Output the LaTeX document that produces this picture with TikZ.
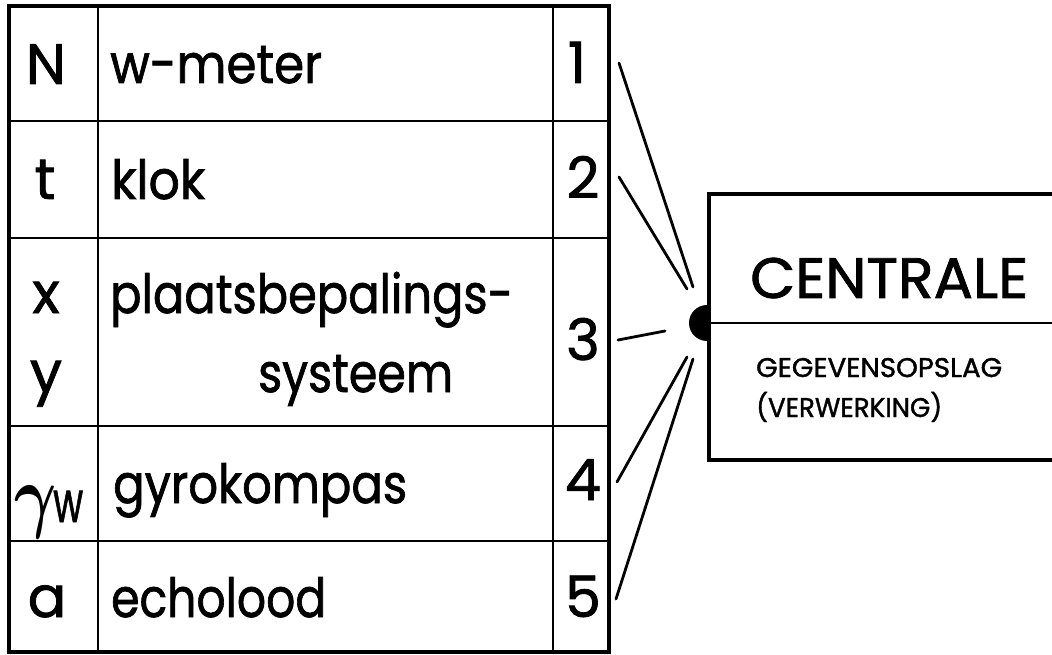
\documentclass[tikz,border=0pt]{standalone}
\usepackage{amsmath}
\usepackage{fontspec}
\usepackage{graphicx}
\newfontfamily\lett[FakeBold=1.4]{Poppins}
% set a text to a given width, keeping its height
\newcommand\fitw[2]{\resizebox{#1pt}{\height}{#2}}
\tikzset{
  frame/.style={line width=3.6pt},
  gridline/.style={line width=2.6pt},
  wire/.style={line width=2.8pt, line cap=round},
  txt/.style={inner sep=0pt, font=\lett\fontsize{54}{60}\selectfont},
  big/.style={inner sep=0pt, font=\lett\fontsize{57}{60}\selectfont},
  small/.style={inner sep=0pt, font=\lett\fontsize{27}{30}\selectfont},
}
\begin{document}
\begin{tikzpicture}[x=1pt,y=-1pt]
\clip (0,0) rectangle (1052,655);
\fill[white] (0,0) rectangle (1052,655);

% table grid
\draw[gridline] (98,6) -- (98,652) (553,6) -- (553,652);
\draw[gridline] (9,121) -- (609,121) (9,238) -- (609,238)
                (9,426) -- (609,426) (9,541) -- (609,541);
\draw[frame] (9,6) rectangle (609,652);

% first column: quantities
\node[big, anchor=base] (qN) at (46,84) {N};
\node[big, anchor=base] (qt) at (45,199) {t};
\node[big, anchor=base] (qx) at (46,313) {x};
\node[big, anchor=base] (qy) at (46,392) {y};
\node[inner sep=0pt, anchor=base] (qg) at (36,522) {\Huge\scalebox{2.6}[3.3]{$\boldsymbol{\gamma}$}};
\node[big, anchor=base west] (qw) at (53,522) {\fitw{30}{w}};
\node[big, anchor=base] (qa) at (47,617) {a};

% second column: instruments
\node[txt, anchor=base west] (i1) at (110,83) {\fitw{212}{w-meter}};
\node[txt, anchor=base west] (i2) at (111,199) {\fitw{94}{klok}};
\node[txt, anchor=base west] (i3a) at (110,313) {\fitw{403}{plaatsbepalings-}};
\node[txt, anchor=base west] (i3b) at (258,392) {\fitw{195}{systeem}};
\node[txt, anchor=base west] (i4) at (113,503) {\fitw{294}{gyrokompas}};
\node[txt, anchor=base west] (i5) at (111,617) {\fitw{215}{echolood}};

% third column: channel numbers
\node[big, anchor=base] (n1) at (577,83) {1};
\node[big, anchor=base] (n2) at (583,198) {2};
\node[big, anchor=base] (n3) at (583,360) {3};
\node[big, anchor=base] (n4) at (583,500) {4};
\node[big, anchor=base] (n5) at (583,617) {5};

% central unit
\node[draw, frame, anchor=north west, inner sep=0pt,
      minimum width=420pt, minimum height=266pt] (central) at (707,192) {};
\coordinate (hub) at (707,323);
\draw[gridline] (hub) -- (1060,323);
\node[big, anchor=base west] (title) at (750,298) {\fitw{278}{CENTRALE}};
\node[small, anchor=base west] (sub1) at (756,377) {\fitw{246}{GEGEVENSOPSLAG}};
\node[small, anchor=base west] (sub2) at (756,417) {\fitw{186}{(VERWERKING)}};

% input socket
\begin{scope}
  \clip (680,290) rectangle (707,360);
  \fill (hub) circle (18pt);
\end{scope}

% leads from the channels to the socket
\coordinate (s1) at (619,63);   \coordinate (e1) at (693,287);
\coordinate (s2) at (619,177);  \coordinate (e2) at (687,289);
\coordinate (s3) at (618,340);  \coordinate (e3) at (665,331);
\coordinate (s4) at (617,482);  \coordinate (e4) at (687,357);
\coordinate (s5) at (616,599);  \coordinate (e5) at (693,359);
\draw[wire] (s1) -- (e1);
\draw[wire] (s2) -- (e2);
\draw[wire] (s3) -- (e3);
\draw[wire] (s4) -- (e4);
\draw[wire] (s5) -- (e5);
\end{tikzpicture}
\end{document}
